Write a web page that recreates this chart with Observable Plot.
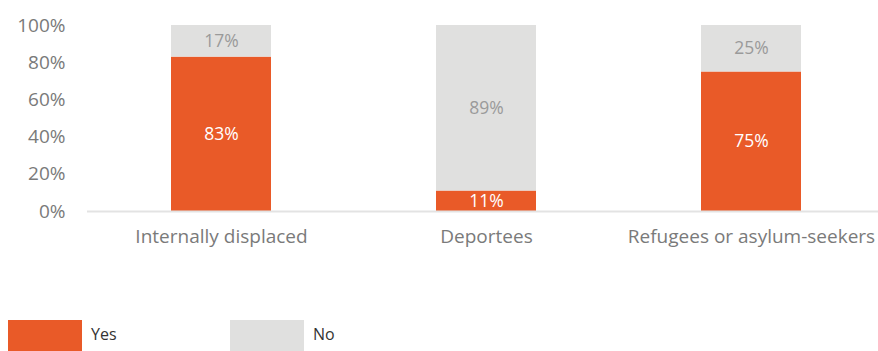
<!DOCTYPE html>
<html>
<head>
<meta charset="utf-8">
<script src="https://cdn.jsdelivr.net/npm/d3@7"></script>
<script src="https://cdn.jsdelivr.net/npm/@observablehq/plot@0.6"></script>
<style>
  html, body { margin: 0; padding: 0; background: #fff; }
  body { width: 878px; height: 351px; overflow: hidden; font-family: "Open Sans", sans-serif; }
  #legend { position: relative; height: 81px; }
  .sw { position: absolute; top: 50px; width: 74px; height: 31px; }
  .lt { position: absolute; top: 53px; font-size: 16px; color: #333; }
</style>
</head>
<body>
<div id="chart"></div>
<div id="legend"></div>
<script>
const categories = ["Internally displaced", "Deportees", "Refugees or asylum-seekers"];
const yesValues = [83, 11, 75];
const noValues = [17, 89, 25];
const seriesNames = ["Yes", "No"];
const seriesColors = ["#E95A28", "#E0E0DF"];
const labelColors = ["#ffffff", "#9a9a9a"];
const yTicks = [0, 20, 40, 60, 80, 100];

const data = [];
categories.forEach((c, i) => {
  data.push({category: c, series: "Yes", value: yesValues[i]});
  data.push({category: c, series: "No", value: noValues[i]});
});

const chart = Plot.plot({
  width: 878,
  height: 270,
  marginLeft: 87,
  marginRight: 0,
  marginTop: 25,
  marginBottom: 59,
  style: {fontFamily: "'Open Sans', sans-serif", background: "#fff"},
  x: {domain: categories, paddingInner: 0.624, paddingOuter: 0.3, align: 0.522, label: null},
  y: {domain: [0, 100], label: null},
  color: {domain: seriesNames, range: seriesColors},
  marks: [
    Plot.barY(data, Plot.stackY({x: "category", y: "value", fill: "series", order: seriesNames})),
    Plot.text(data, Plot.stackY({x: "category", y: "value", z: "series", order: seriesNames,
      text: d => d.value + "%",
      fill: d => d.series === "Yes" ? labelColors[0] : labelColors[1],
      fontSize: 17.5})),
    Plot.ruleY([0], {stroke: "#e3e3e3", strokeWidth: 2}),
    Plot.axisY({ticks: yTicks, tickFormat: d => d + "%", tickSize: 0, tickPadding: 22, fontSize: 19, color: "#7a7a7a", label: null}),
    Plot.axisX({tickSize: 0, tickPadding: 18, fontSize: 19, color: "#7a7a7a", label: null})
  ]
});
document.getElementById("chart").appendChild(chart);

const legend = document.getElementById("legend");
const lefts = [8, 230];
seriesNames.forEach((s, i) => {
  const sw = document.createElement("div");
  sw.className = "sw";
  sw.style.left = lefts[i] + "px";
  sw.style.background = seriesColors[i];
  legend.appendChild(sw);
  const t = document.createElement("div");
  t.className = "lt";
  t.style.left = (lefts[i] + 83) + "px";
  t.textContent = s;
  legend.appendChild(t);
});
</script>
</body>
</html>
